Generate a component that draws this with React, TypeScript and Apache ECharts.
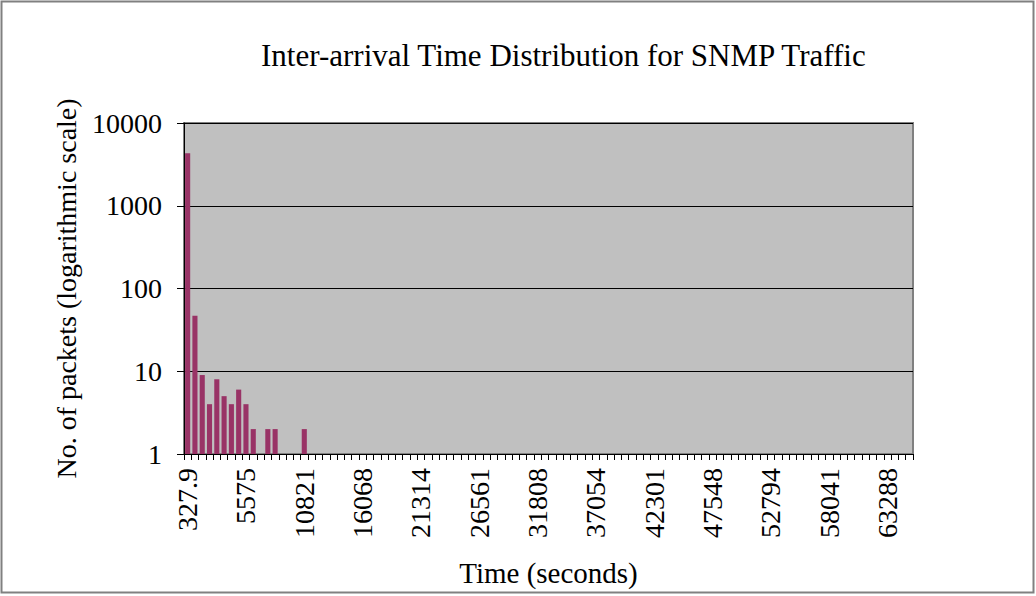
import React, { useEffect, useRef } from "react";
import * as echarts from "echarts";

const binStart = 327.9;
const binWidth = 655.8;
const binCount = 100;
const tickLabels = ["327.9", "5575", "10821", "16068", "21314", "26561", "31808", "37054", "42301", "47548", "52794", "58041", "63288"];
const labelEvery = 8;
// packet counts per bin (first 17 bins; the rest are empty)
const counts = [4300, 47, 9, 4, 8, 5, 4, 6, 4, 2, 0, 2, 2, 0, 0, 0, 2];

const categories: string[] = [];
for (let i = 0; i < binCount; i++) categories.push((binStart + i * binWidth).toFixed(1));
const values = categories.map((_, i) => {
  const v = i < counts.length ? counts[i] : 0;
  return v > 0 ? v : "-";
});

const FONT = "Liberation Serif";

export default function App() {
  const ref = useRef<HTMLDivElement>(null);
  useEffect(() => {
    if (!ref.current) return;
    const chart = echarts.init(ref.current, null, { renderer: "svg" });
    chart.setOption({
      animation: false,
      backgroundColor: "#ffffff",
      title: {
        text: "Inter-arrival Time Distribution for SNMP Traffic",
        left: 256,
        top: 35,
        textStyle: { fontFamily: FONT, fontSize: 31, fontWeight: "normal", color: "#000" },
      },
      graphic: [
        {
          type: "rect",
          shape: { x: 1.5, y: 1.5, width: 1032, height: 591 },
          style: { fill: "none", stroke: "#808080", lineWidth: 2 },
          silent: true,
        },
      ],
      grid: {
        left: 184,
        right: 123,
        top: 123,
        bottom: 142,
        show: true,
        backgroundColor: "#c0c0c0",
        borderColor: "#808080",
        borderWidth: 2,
      },
      xAxis: {
        type: "category",
        data: categories,
        name: "Time (seconds)",
        nameLocation: "middle",
        nameGap: 104,
        nameTextStyle: { fontFamily: FONT, fontSize: 29, color: "#000" },
        axisLine: { show: true, lineStyle: { color: "#000", width: 1 } },
        axisTick: { show: true, interval: 0, length: 6, lineStyle: { color: "#000" } },
        axisLabel: {
          interval: (index: number) => index % labelEvery === 0,
          formatter: (_v: string, index: number) => tickLabels[Math.floor(index / labelEvery)] ?? "",
          rotate: 90,
          margin: 14,
          fontFamily: FONT,
          fontSize: 28,
          color: "#000",
        },
        splitLine: { show: false },
      },
      yAxis: {
        type: "log",
        logBase: 10,
        min: 1,
        max: 10000,
        name: "No. of packets (logarithmic scale)",
        nameLocation: "middle",
        nameGap: 104,
        nameTextStyle: { fontFamily: FONT, fontSize: 28, color: "#000" },
        axisLine: { show: true, lineStyle: { color: "#000", width: 1 } },
        axisTick: { show: true, length: 7, lineStyle: { color: "#000" } },
        axisLabel: {
          fontFamily: FONT,
          fontSize: 28,
          color: "#000",
          margin: 22,
          formatter: (v: number) => String(Math.round(v)),
        },
        splitLine: { show: true, lineStyle: { color: "#000", width: 1 } },
      },
      series: [
        {
          type: "bar",
          data: values,
          barCategoryGap: "30%",
          itemStyle: { color: "#993366" },
        },
      ],
    });
    return () => chart.dispose();
  }, []);
  return (
    <div
      ref={ref}
      style={{ position: "absolute", left: 0, top: 0, width: 1036, height: 596 }}
    />
  );
}
